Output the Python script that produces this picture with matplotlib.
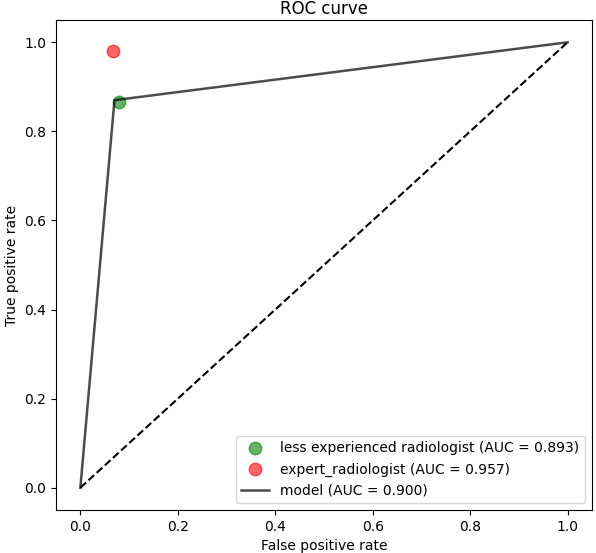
import numpy as np
import matplotlib
matplotlib.use('Agg')
import matplotlib.pyplot as plt

# operating points
model_fpr = [0.0, 0.07, 1.0]
model_tpr = [0.0, 0.87, 1.0]
less_exp_fpr = [0.08]
less_exp_tpr = [0.865]
expert_fpr = [0.066]
expert_tpr = [0.98]
chance = [0.0, 1.0]

fig = plt.figure(figsize=(5.96, 5.53), dpi=100)
ax = fig.add_axes([56 / 596, 43 / 553, 536 / 596, 490 / 553])

ax.plot(chance, chance, 'k--', linewidth=1.5)
ax.plot(less_exp_fpr, less_exp_tpr, 'o', color='green', alpha=0.6, markersize=9,
        linestyle='none', label='less experienced radiologist (AUC = 0.893)')
ax.plot(expert_fpr, expert_tpr, 'o', color='red', alpha=0.6, markersize=9,
        linestyle='none', label='expert_radiologist (AUC = 0.957)')
ax.plot(model_fpr, model_tpr, color='black', alpha=0.7, linewidth=1.8,
        label='model (AUC = 0.900)')

ax.set_xlim(-0.05, 1.05)
ax.set_ylim(-0.05, 1.05)
ax.set_xlabel('False positive rate')
ax.set_ylabel('True positive rate')
ax.set_title('ROC curve', pad=4)
ax.legend(loc='lower right')

fig.savefig('out.png', dpi=100)
